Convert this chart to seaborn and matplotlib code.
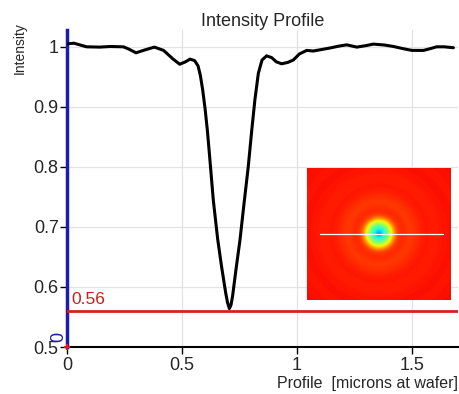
import numpy as np
import pandas as pd
import seaborn as sns
import matplotlib
matplotlib.use("Agg")
import matplotlib.pyplot as plt

# profile (microns, relative intensity)
pos = [0.0, 0.03, 0.085, 0.143, 0.187, 0.245, 0.27, 0.30, 0.34, 0.38,
       0.42, 0.46, 0.49, 0.515, 0.535, 0.555, 0.57, 0.58, 0.59, 0.60,
       0.61, 0.62, 0.636, 0.655, 0.672, 0.69, 0.698, 0.706, 0.713, 0.72,
       0.735, 0.752, 0.77, 0.788, 0.803, 0.817, 0.832, 0.848, 0.868, 0.89,
       0.91, 0.933, 0.96, 0.984, 1.01, 1.042, 1.07, 1.1, 1.143, 1.18,
       1.216, 1.26, 1.30, 1.332, 1.38, 1.42, 1.46, 1.50, 1.55, 1.58,
       1.607, 1.64, 1.68]
intensity = [1.005, 1.006, 1.000, 0.9995, 1.0005, 1.000, 0.996, 0.990, 0.995, 0.9995,
             0.994, 0.980, 0.971, 0.975, 0.9795, 0.977, 0.968, 0.952, 0.928, 0.898,
             0.862, 0.818, 0.745, 0.68, 0.634, 0.59, 0.574, 0.564, 0.57, 0.585,
             0.63, 0.678, 0.74, 0.80, 0.86, 0.912, 0.956, 0.978, 0.985, 0.982,
             0.975, 0.9717, 0.974, 0.978, 0.988, 0.994, 0.993, 0.995, 0.998, 1.001,
             1.0033, 0.9995, 1.002, 1.0045, 1.003, 1.0005, 0.997, 0.994, 0.994, 0.997,
             1.0, 1.0, 0.9985]
threshold = 0.56
xticks = [0, 0.5, 1, 1.5]
xticklabels = ["0", "0.5", "1", "1.5"]
yticks = [0.5, 0.6, 0.7, 0.8, 0.9, 1.0]
yticklabels = ["0.5", "0.6", "0.7", "0.8", "0.9", "1"]

df = pd.DataFrame({"pos": pos, "intensity": intensity})

sns.set_style("white")
plt.rcParams["font.family"] = ["Liberation Sans", "DejaVu Sans"]

fig = plt.figure(figsize=(4.59, 3.94), dpi=100)
ax = fig.add_axes([67 / 459, 1 - 347 / 394, 391 / 459, 317 / 394])

ax.grid(True, color="#e2e2e2", lw=0.9)
ax.set_axisbelow(True)
sns.lineplot(data=df, x="pos", y="intensity", color="black", lw=2.2, ax=ax, zorder=3)
ax.axhline(threshold, color="#d42020", lw=2, zorder=4)
ax.text(0.02, threshold + 0.006, f"{threshold:.2f}", color="#c81e1e", fontsize=12.5,
        ha="left", va="bottom")

ax.set_xlim(0, 1.70)
ax.set_ylim(0.5, 1.028)
ax.set_xticks(xticks, xticklabels)
ax.set_yticks(yticks, yticklabels)
ax.tick_params(axis="both", labelsize=13, direction="out", length=5, width=1,
               color="black", left=True, bottom=True)
ax.tick_params(axis="y", pad=1)
ax.tick_params(axis="x", pad=2)

for s in ["top", "right"]:
    ax.spines[s].set_visible(False)
ax.spines["left"].set_color("#1c1cb0")
ax.spines["left"].set_linewidth(2.5)
ax.spines["bottom"].set_color("black")
ax.spines["bottom"].set_linewidth(1.5)

ax.set_title("Intensity Profile", fontsize=13, pad=3)
ax.set_xlabel("Profile  [microns at wafer]", fontsize=11.5, loc="right")
ax.xaxis.set_label_coords(1.0, -0.09)
ax.set_ylabel("")
ax.text(-0.122, 0.943, "Intensity", rotation=90, ha="center", va="center",
        fontsize=10, transform=ax.transAxes)
ax.text(-0.036, 0.517, "0", rotation=90, ha="center", va="center", color="#1c1cb0",
        fontsize=13, clip_on=False)
ax.plot([0], [0.5], marker="+", color="#d42020", ms=5, mew=1.5, clip_on=False, zorder=6)

# inset spot image built radially from the same profile
center = 0.706
pos_a = np.array(pos)
int_a = np.array(intensity)
half_w, half_h = 0.5, 0.5 * 132 / 143
gx = np.linspace(-half_w, half_w, 143)
gy = np.linspace(-half_h, half_h, 132)
X, Y = np.meshgrid(gx, gy)
R = np.sqrt(X ** 2 + Y ** 2)
img = 0.5 * (np.interp(center + R, pos_a, int_a) + np.interp(center - R, pos_a, int_a))

iax = ax.inset_axes([1.042, 0.578, 0.623, 0.22], transform=ax.transData, zorder=5)
iax.imshow(img, cmap="jet", vmin=0.364, vmax=1.079, aspect="auto",
           interpolation="bilinear", extent=[-half_w, half_w, -half_h, half_h])
iax.plot([-0.41, 0.45], [0, 0], color="white", lw=0.9)
iax.set_xlim(-half_w, half_w)
iax.set_ylim(-half_h, half_h)
iax.axis("off")

fig.savefig("out.png", dpi=100)
